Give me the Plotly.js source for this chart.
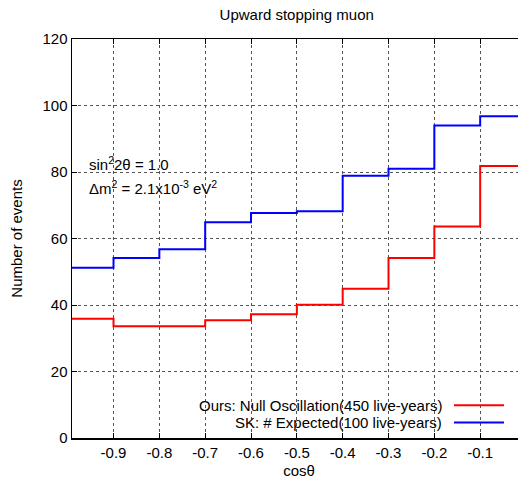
<!DOCTYPE html>
<html><head><meta charset="utf-8">
<script src="https://cdn.plot.ly/plotly-3.0.1.min.js"></script>
<style>html,body{margin:0;padding:0;overflow:hidden;background:#fff;}#chart{width:528px;height:483px;}</style>
</head><body><div id="chart"></div>
<script>
// bin edges in cos(theta)
const binEdges = [-1.0, -0.9, -0.8, -0.7, -0.6, -0.5, -0.4, -0.3, -0.2, -0.1, 0.0];
// Ours: Null Oscillation (450 live-years)
const oursNull = [35.9, 33.6, 33.6, 35.4, 37.2, 40.1, 44.9, 54.1, 63.6, 81.8];
// SK: # Expected (100 live-years)
const skExpected = [51.2, 54.1, 56.8, 64.9, 67.7, 68.2, 78.9, 81.0, 94.0, 96.8];
const xTicks = [-0.9, -0.8, -0.7, -0.6, -0.5, -0.4, -0.3, -0.2, -0.1];
const xTickLabels = ['-0.9', '-0.8', '-0.7', '-0.6', '-0.5', '-0.4', '-0.3', '-0.2', '-0.1'];
const yTicks = [0, 20, 40, 60, 80, 100, 120];
const seriesNames = ['Ours: Null Oscillation(450 live-years)', 'SK: # Expected(100 live-years)'];

function stepY(v) { return v.concat([v[v.length - 1]]); }

const FONT = 'Liberation Sans, Arial, Helvetica, sans-serif';
const FS = 15;

const traces = [
  { x: binEdges, y: stepY(oursNull), mode: 'lines', line: { shape: 'hv', color: '#ff0000', width: 2 }, name: seriesNames[0], showlegend: false },
  { x: binEdges, y: stepY(skExpected), mode: 'lines', line: { shape: 'hv', color: '#0000ff', width: 2 }, name: seriesNames[1], showlegend: false }
];

// plot area: x 72 .. 526 px, y 38.5 .. 437.7 px
const legendTop = (437.7 - 396) / 399.2;
const layout = {
  width: 528, height: 483,
  margin: { l: 72, r: 2, t: 38.5, b: 45.3 },
  paper_bgcolor: '#fff', plot_bgcolor: '#fff',
  font: { family: FONT, size: FS, color: '#000' },
  title: { text: 'Upward stopping muon', font: { family: FONT, size: FS, color: '#000' }, x: (296.7) / 528, xanchor: 'center', y: 1 - 15 / 483, yanchor: 'middle' },
  xaxis: {
    range: [-0.9906, 0], tickvals: xTicks, ticktext: xTickLabels,
    ticks: 'inside', ticklen: 5, tickwidth: 1, tickcolor: '#000',
    showline: true, linecolor: '#000', linewidth: 1.5, mirror: 'ticks',
    showgrid: true, gridcolor: '#555', griddash: 'dot', gridwidth: 1,
    zeroline: false, tickfont: { family: FONT, size: FS },
    title: { text: 'cosθ', font: { family: FONT, size: FS }, standoff: 6 }
  },
  yaxis: {
    range: [0, 120], tickvals: yTicks,
    ticks: 'inside', ticklen: 5, tickwidth: 1, tickcolor: '#000',
    showline: true, linecolor: '#000', linewidth: 1.5, mirror: 'ticks',
    showgrid: true, gridcolor: '#555', griddash: 'dot', gridwidth: 1,
    zeroline: false, tickfont: { family: FONT, size: FS },
    title: { text: 'Number of events', font: { family: FONT, size: FS }, standoff: 16 }
  },
  shapes: [
    { type: 'rect', xref: 'paper', yref: 'paper', x0: 0, x1: 1, y0: 0, y1: legendTop, fillcolor: '#fff', line: { width: 0 }, layer: 'between' },
    { type: 'line', xref: 'paper', yref: 'paper', x0: (454 - 72) / 454, x1: (504 - 72) / 454, y0: (437.7 - 405) / 399.2, y1: (437.7 - 405) / 399.2, line: { color: '#ff0000', width: 2 } },
    { type: 'line', xref: 'paper', yref: 'paper', x0: (454 - 72) / 454, x1: (504 - 72) / 454, y0: (437.7 - 422.3) / 399.2, y1: (437.7 - 422.3) / 399.2, line: { color: '#0000ff', width: 2 } }
  ],
  annotations: [
    { xref: 'paper', yref: 'paper', x: (444 - 72) / 454, y: (437.7 - 405) / 399.2, xanchor: 'right', yanchor: 'middle', text: seriesNames[0], showarrow: false, font: { family: FONT, size: FS } },
    { xref: 'paper', yref: 'paper', x: (444 - 72) / 454, y: (437.7 - 422.3) / 399.2, xanchor: 'right', yanchor: 'middle', text: seriesNames[1], showarrow: false, font: { family: FONT, size: FS } },
    { xref: 'paper', yref: 'paper', x: (87 - 72) / 454, y: (437.7 - 163) / 399.2, xanchor: 'left', yanchor: 'middle', text: 'sin<sup>2</sup>2θ = 1.0', showarrow: false, font: { family: FONT, size: FS } },
    { xref: 'paper', yref: 'paper', x: (87 - 72) / 454, y: (437.7 - 187) / 399.2, xanchor: 'left', yanchor: 'middle', text: 'Δm<sup>2</sup> = 2.1x10<sup>-3</sup> eV<sup>2</sup>', showarrow: false, font: { family: FONT, size: FS } }
  ]
};

Plotly.newPlot('chart', traces, layout, { staticPlot: true, displayModeBar: false });
</script>
</body></html>
